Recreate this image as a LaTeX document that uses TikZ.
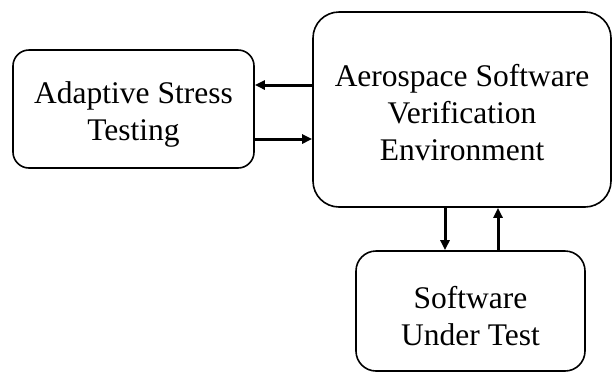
\documentclass[tikz,border=0pt]{standalone}
\usepackage{fontspec}
\setmainfont{Liberation Serif}
\usetikzlibrary{arrows.meta}
\begin{document}
\begin{tikzpicture}[x=1pt,y=-1pt,
  blockbox/.style={draw, line width=1.6pt, rounded corners=#1, inner sep=0pt},
  caption/.style={align=center, inner sep=0pt, font=\fontsize{31.5}{37}\selectfont},
  flow/.style={line width=3pt, -{Triangle[length=10pt,width=9pt]}}]
  \useasboundingbox (0,0) rectangle (613,373);
  % the three blocks
  \node[blockbox=16pt, minimum width=241pt, minimum height=118pt]
    (ast) at (133.5,109) {};
  \node[blockbox=26pt, minimum width=298pt, minimum height=195pt]
    (asve) at (462,109.5) {};
  \node[blockbox=20pt, minimum width=229pt, minimum height=120pt]
    (sut) at (470.5,311) {};
  % their captions
  \node[caption] (ast-text) at ([yshift=-5pt]ast.center) {Adaptive Stress\\Testing};
  \node[caption] (asve-text) at ([yshift=-3pt]asve.center) {Aerospace Software\\Verification\\Environment};
  \node[caption] (sut-text) at ([yshift=-5pt]sut.center) {Software\\Under Test};
  % exchanges between the blocks
  \draw[flow] (asve.west |- 0,85) -- (ast.east |- 0,85);
  \draw[flow] (ast.east |- 0,139) -- (asve.west |- 0,139);
  \draw[flow] (asve.south -| 445,0) -- (sut.north -| 445,0);
  \draw[flow] (sut.north -| 498,0) -- (asve.south -| 498,0);
\end{tikzpicture}
\end{document}
